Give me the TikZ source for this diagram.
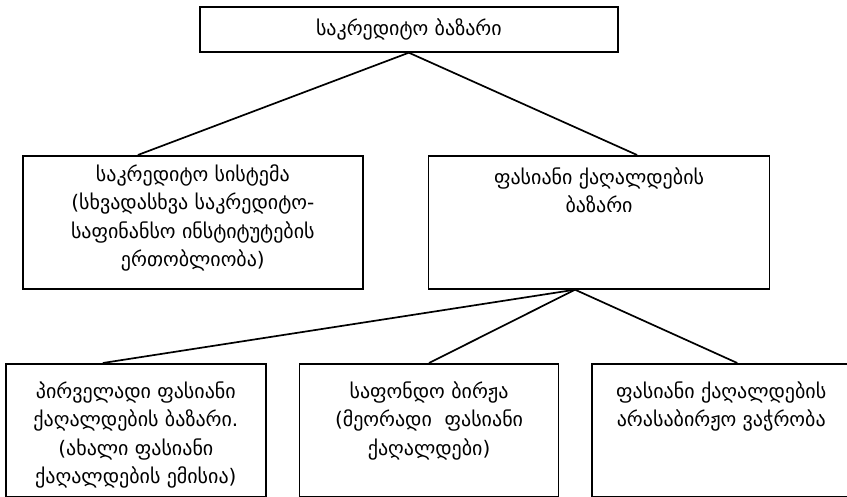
\documentclass[tikz,border=0pt]{standalone}
\usepackage{fontspec}
\setmainfont{DejaVu Sans}
\usetikzlibrary{positioning}
\newcommand{\boxtext}[4]{\parbox[c][#2][t]{#1}{\centering\vspace*{#3}#4}}

\begin{document}
\begin{tikzpicture}[x=1pt,y=-1pt,
	box/.style={draw,line width=1.7pt,inner sep=0pt,font=\fontsize{20}{28.3}\selectfont},
	link/.style={line width=1.7pt}]
	\useasboundingbox (0,0) rectangle (847,497);

	\node[box,anchor=north west,minimum width=418pt,minimum height=45pt] (market) at (199,6) {საკრედიტო ბაზარი};
	\node[box,anchor=north west] (credsys) at (22,155) {\boxtext{340pt}{133pt}{9pt}{საკრედიტო სისტემა\\(სხვადასხვა საკრედიტო-\\საფინანსო ინსტიტუტების\\ერთობლიობა)}};
	\node[box] (secmkt) [right=64pt of credsys] {\boxtext{341pt}{133pt}{12pt}{ფასიანი ქაღალდების\\ბაზარი}};
	\node[box,anchor=north west] (primary) at (5,363) {\boxtext{260pt}{133pt}{18pt}{პირველადი ფასიანი\\ქაღალდების ბაზარი.\\(ახალი ფასიანი\\ქაღალდების ემისია)}};
	\node[box] (exchange) [right=32pt of primary] {\boxtext{259pt}{133pt}{18pt}{საფონდო ბირჟა\\(მეორადი\ \ ფასიანი\\ქაღალდები)}};
	\node[box] (otc) [right=32pt of exchange] {\boxtext{258pt}{133pt}{18pt}{ფასიანი ქაღალდების\\არასაბირჟო ვაჭრობა}};

	\draw[link] (market.south) -- ([xshift=-55pt]credsys.north);
	\draw[link] (market.south) -- ([xshift=38pt]secmkt.north);
	\draw[link] ([xshift=-24pt]secmkt.south) -- ([xshift=-33pt]primary.north);
	\draw[link] ([xshift=-24pt]secmkt.south) -- (exchange.north);
	\draw[link] ([xshift=-24pt]secmkt.south) -- ([xshift=16pt]otc.north);
\end{tikzpicture}
\end{document}
